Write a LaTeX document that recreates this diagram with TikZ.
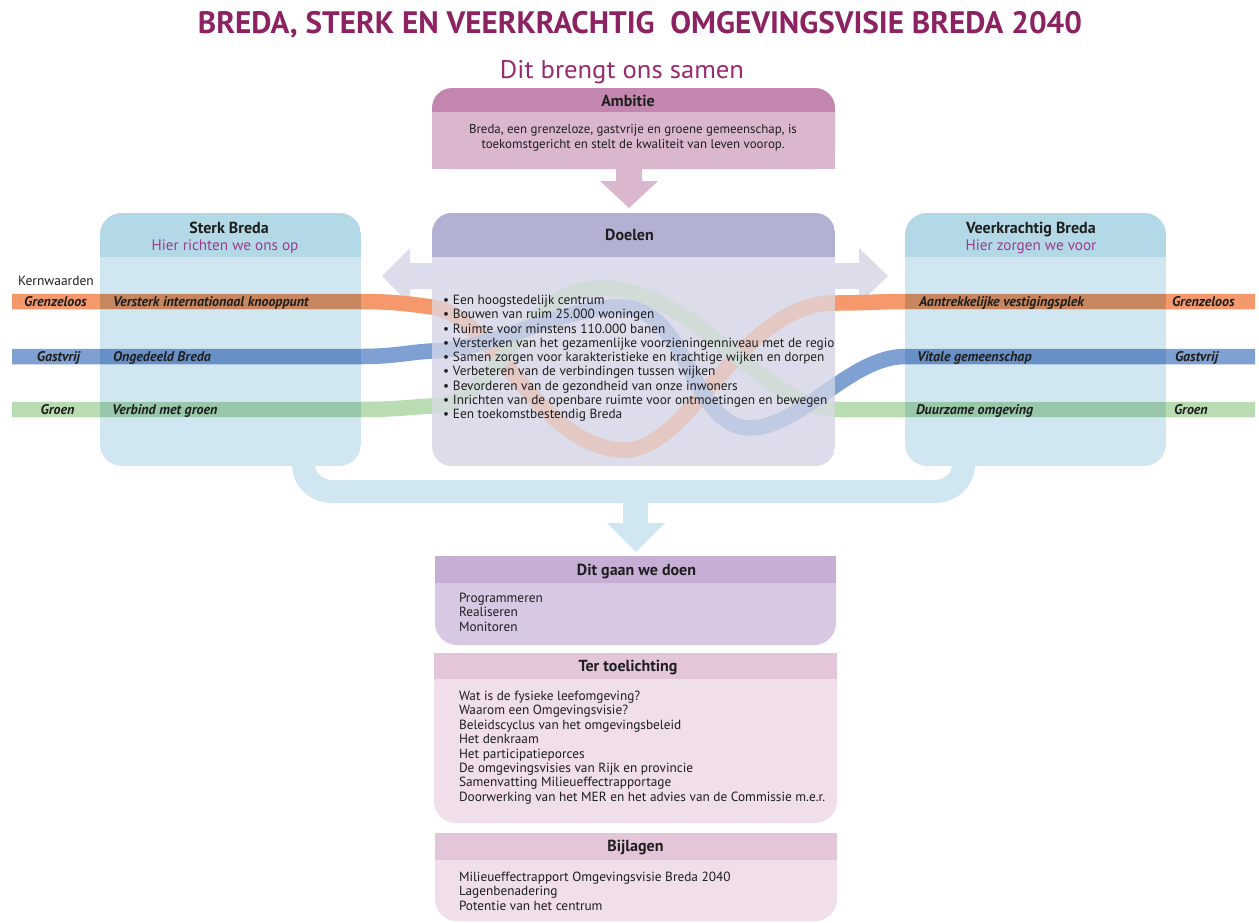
\documentclass[tikz,border=0pt]{standalone}
\usepackage{fontspec}
\setmainfont{PT Sans}
\usepackage{graphicx}
\definecolor{ink}{HTML}{1E1E1E}
\definecolor{titlecol}{HTML}{8C2262}
\definecolor{subcol}{HTML}{9A2A6E}
\definecolor{hiercol}{HTML}{9D3B8F}
\definecolor{ambHead}{HTML}{C387AF}
\definecolor{ambBody}{HTML}{DBB7CF}
\definecolor{doelHead}{HTML}{B3B1D3}
\definecolor{doelBody}{HTML}{DCDCEA}
\definecolor{sideHead}{HTML}{B3D9E7}
\definecolor{sideBody}{HTML}{D0E7F1}
\definecolor{doenHead}{HTML}{C6AFD5}
\definecolor{doenBody}{HTML}{D8C8E3}
\definecolor{terHead}{HTML}{E4C6DB}
\definecolor{terBody}{HTML}{F0DEEA}
\definecolor{orangeL}{HTML}{F5996D}
\definecolor{orangeD}{HTML}{C8865F}
\definecolor{blueL}{HTML}{7FA0D3}
\definecolor{blueD}{HTML}{6790C6}
\definecolor{greenL}{HTML}{BADCB3}
\definecolor{greenD}{HTML}{98C7A9}
\begin{document}
\begin{tikzpicture}[x=1pt,y=-1pt,
  every node/.style={inner sep=0pt, outer sep=0pt, text=ink},
  boxtitle/.style={font=\fontsize{16}{18}\selectfont\bfseries, anchor=base},
  bodytxt/.style={font=\fontsize{13.3}{15}\selectfont, anchor=base west},
  centxt/.style={font=\fontsize{12.9}{15}\selectfont, anchor=base},
  hiertxt/.style={font=\fontsize{15.2}{17}\selectfont, anchor=base, text=hiercol},
  bandlbl/.style={font=\fontsize{14}{16}\selectfont\bfseries\itshape, anchor=base west},
  strand/.style={line width=15.5pt, line cap=butt}]
\useasboundingbox (0,0) rectangle (1259,922);
\fill[white] (0,0) rectangle (1259,922);

% titles
\node[anchor=base, text=titlecol] (title) at (640,33)
  {\resizebox{884pt}{\height}{\fontsize{31}{31}\selectfont\bfseries BREDA, STERK EN VEERKRACHTIG\ \ OMGEVINGSVISIE BREDA 2040}};
\node[anchor=base, text=subcol] (samen) at (622,78)
  {\resizebox{244pt}{\height}{\fontsize{25.5}{26}\selectfont Dit brengt ons samen}};

% block arrows
\fill[ambBody] (616,165) -- (642,165) -- (642,181) -- (658,181) -- (629,208) -- (600,181) -- (616,181) -- cycle;
\fill[doelBody] (436,263) -- (410,263) -- (410,248) -- (382,276) -- (410,304) -- (410,289) -- (436,289) -- cycle;
\fill[doelBody] (831,263) -- (859,263) -- (859,248) -- (888,276) -- (859,304) -- (859,289) -- (831,289) -- cycle;
\fill[sideBody] (292,460) -- (292,465) .. controls (292,486) and (310,503) .. (332,503) -- (935,503)
  .. controls (957,503) and (975,486) .. (975,465) -- (975,460) -- (952,460) -- (952,465)
  .. controls (952,472) and (945,480) .. (935,480) -- (332,480) .. controls (322,480) and (315,472) .. (315,465)
  -- (315,460) -- cycle;
\fill[sideBody] (623,500) -- (648,500) -- (648,523) -- (665,523) -- (636,552) -- (607,523) -- (623,523) -- cycle;

% Ambitie
\fill[ambHead, rounded corners=20pt] (432,88) rectangle (835,169);
\fill[ambBody] (432,112) rectangle (835,169);
\node[boxtitle] (ambt) at (628,106) {Ambitie};
\node[centxt] (amb1) at (633,133.5) {Breda, een grenzeloze, gastvrije en groene gemeenschap, is};
\node[centxt] (amb2) at (633,148.5) {toekomstgericht en stelt de kwaliteit van leven voorop.};

% side boxes
\begin{scope}
  \clip[rounded corners=22pt] (100,213) rectangle (361,466);
  \fill[sideBody] (100,213) rectangle (361,466);
  \fill[sideHead] (100,213) rectangle (361,257);
\end{scope}
\begin{scope}
  \clip[rounded corners=22pt] (905,213) rectangle (1166,466);
  \fill[sideBody] (905,213) rectangle (1166,466);
  \fill[sideHead] (905,213) rectangle (1166,257);
\end{scope}
% Doelen base
\begin{scope}
  \clip[rounded corners=20pt] (432,213) rectangle (835,466);
  \fill[doelBody] (432,213) rectangle (835,466);
\end{scope}

% strands
\draw[strand, orangeL] (12,301.5) -- (361,301.5) .. controls (395,301.5) and (412,304.5) .. (432,307)
  .. controls (495,316) and (540,450) .. (625,450) .. controls (690,450) and (740,303) .. (835,303)
  .. controls (865,303) and (880,301.5) .. (905,301.5) -- (1255,301.5);
\draw[strand, greenL] (12,409.5) -- (361,409.5) .. controls (395,409.5) and (410,407) .. (432,406)
  .. controls (500,404) and (520,288) .. (600,288) .. controls (700,288) and (760,409.5) .. (840,409.5)
  -- (1255,409.5);
\draw[strand, blueL] (12,356.5) -- (361,356.5) .. controls (395,356.5) and (410,352) .. (432,351)
  .. controls (500,348) and (560,307) .. (620,307) .. controls (690,307) and (690,428) .. (750,428)
  .. controls (800,428) and (850,356.5) .. (905,356.5) -- (1255,356.5);
\fill[orangeD] (100,293.75) rectangle (361,309.25);
\fill[blueD] (100,348.75) rectangle (361,364.25);
\fill[greenD] (100,401.75) rectangle (361,417.25);
\fill[orangeD] (905,293.75) rectangle (1166,309.25);
\fill[blueD] (905,348.75) rectangle (1166,364.25);
\fill[greenD] (905,401.75) rectangle (1166,417.25);

% Doelen overlay and header
\begin{scope}
  \clip[rounded corners=20pt] (432,213) rectangle (835,466);
  \fill[doelBody, opacity=0.7] (432,257) rectangle (835,466);
  \fill[doelHead] (432,213) rectangle (835,257);
\end{scope}

% side box texts
\node[boxtitle] (sterk) at (229,233.5) {Sterk Breda};
\node[hiertxt] (sterk2) at (225,250) {Hier richten we ons op};
\node[boxtitle] (veer) at (1031,233.5) {Veerkrachtig Breda};
\node[hiertxt] (veer2) at (1031,250) {Hier zorgen we voor};
\node[bodytxt, font=\fontsize{13.5}{15}\selectfont] (kern) at (18,285.5) {Kernwaarden};

\node[bandlbl, anchor=base] (lg1) at (55.5,306) {Grenzeloos};
\node[bandlbl, anchor=base] (lg2) at (58.5,361) {Gastvrij};
\node[bandlbl, anchor=base] (lg3) at (57.5,414) {Groen};
\node[bandlbl] (s1) at (113,306) {Versterk internationaal knooppunt};
\node[bandlbl] (s2) at (113,361) {Ongedeeld Breda};
\node[bandlbl] (s3) at (112,414) {Verbind met groen};
\node[bandlbl] (v1) at (919,306) {Aantrekkelijke vestigingsplek};
\node[bandlbl] (v2) at (917,361) {Vitale gemeenschap};
\node[bandlbl] (v3) at (916,414) {Duurzame omgeving};
\node[bandlbl] (rg1) at (1172,306) {Grenzeloos};
\node[bandlbl] (rg2) at (1175,361) {Gastvrij};
\node[bandlbl] (rg3) at (1174,414) {Groen};

% Doelen texts
\node[boxtitle] (doel) at (629.5,240) {Doelen};
\foreach \t [count=\i from 0] in {Een hoogstedelijk centrum, Bouwen van ruim 25.000 woningen,
  Ruimte voor minstens 110.000 banen, Versterken van het gezamenlijke voorzieningenniveau met de regio,
  Samen zorgen voor karakteristieke en krachtige wijken en dorpen, Verbeteren van de verbindingen tussen wijken,
  Bevorderen van de gezondheid van onze inwoners, Inrichten van de openbare ruimte voor ontmoetingen en bewegen,
  Een toekomstbestendig Breda}{
  \node[bodytxt] (db\i) at (443,304.5+14.25*\i) {\makebox[10pt][l]{•}\t};
}

% Dit gaan we doen
\fill[doenBody, rounded corners=22pt] (435,556) rectangle (836,645);
\fill[doenHead] (435,556) rectangle (836,583);
\node[boxtitle] (doen) at (636.5,575) {Dit gaan we doen};
\node[bodytxt] (do1) at (459,602.5) {Programmeren};
\node[bodytxt] (do2) at (459,616.5) {Realiseren};
\node[bodytxt] (do3) at (459,631.5) {Monitoren};

% Ter toelichting
\fill[terBody, rounded corners=22pt] (434,653) rectangle (837,823);
\fill[terHead] (434,653) rectangle (837,679);
\node[boxtitle] (ter) at (628,671) {Ter toelichting};
\foreach \t [count=\i from 0] in {Wat is de fysieke leefomgeving?, Waarom een Omgevingsvisie?,
  Beleidscyclus van het omgevingsbeleid, Het denkraam, Het participatieporces,
  De omgevingsvisies van Rijk en provincie, Samenvatting Milieueffectrapportage,
  Doorwerking van het MER en het advies van de Commissie m.e.r.}{
  \node[bodytxt] (tt\i) at (459,700.5+14.4*\i) {\t};
}

% Bijlagen
\fill[terBody, rounded corners=22pt] (435,833) rectangle (837,921);
\fill[terHead] (435,833) rectangle (837,860);
\node[boxtitle] (bij) at (635.5,851) {Bijlagen};
\node[bodytxt] (bj1) at (459,881.5) {Milieueffectrapport Omgevingsvisie Breda 2040};
\node[bodytxt] (bj2) at (459,895.5) {Lagenbenadering};
\node[bodytxt] (bj3) at (459,910.5) {Potentie van het centrum};
\end{tikzpicture}
\end{document}
